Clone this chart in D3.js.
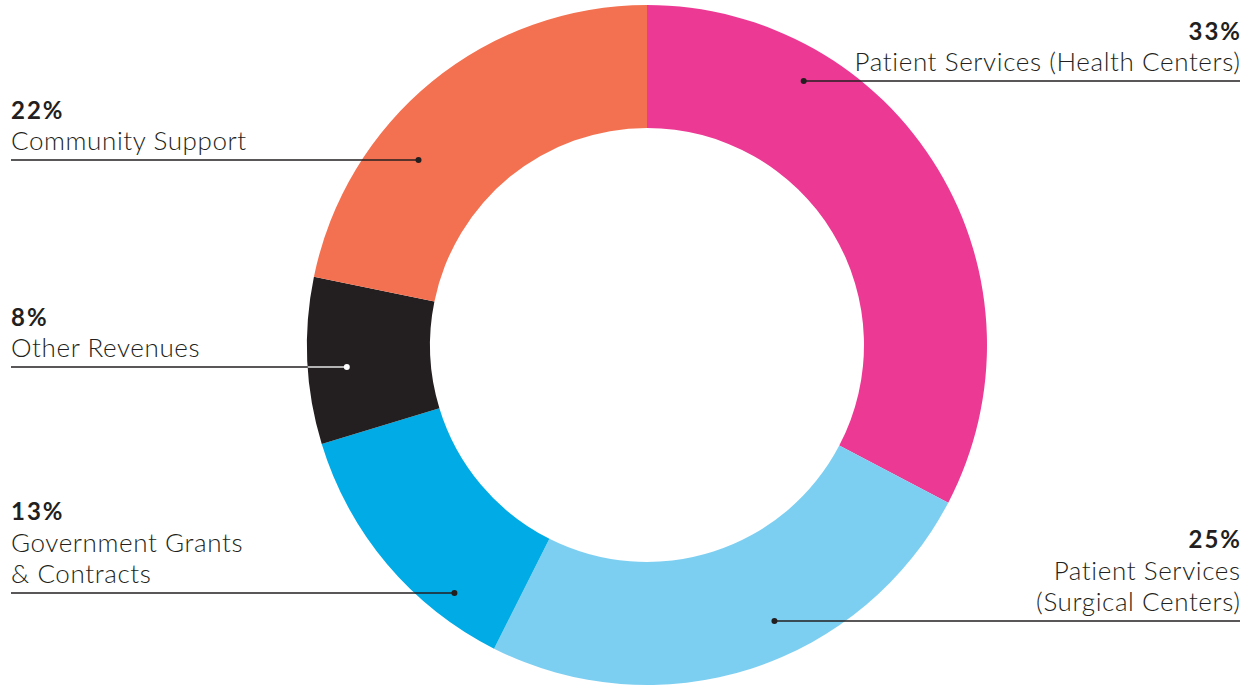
<!DOCTYPE html>
<html>
<head>
<meta charset="utf-8">
<script src="https://cdn.jsdelivr.net/npm/d3@7"></script>
<style>
  body { margin: 0; background: #fff; }
  svg { display: block; font-family: Lato, "Open Sans", sans-serif; }
</style>
</head>
<body>
<svg id="chartArea" width="1252" height="688"></svg>
<script>
// data
const categories = [
    "Patient Services (Health Centers)",
    "Patient Services (Surgical Centers)",
    "Government Grants & Contracts",
    "Other Revenues",
    "Community Support"
];
const shares = [33, 25, 13, 8, 22];
const colorList = ["#ec3994", "#7dcff2", "#00abe6", "#231f20", "#f37150"];

// label text lines for each slice
const labelLines = [
    ["Patient Services (Health Centers)"],
    ["Patient Services", "(Surgical Centers)"],
    ["Government Grants", "& Contracts"],
    ["Other Revenues"],
    ["Community Support"]
];

// layout for labels: side, y of the leader line, radius where the dot sits
const labelLayout = [
    {side: "right", lineY: 81, dotR: 307},
    {side: "right", lineY: 621, dotR: 304},
    {side: "left", lineY: 593, dotR: 314},
    {side: "left", lineY: 367, dotR: 301},
    {side: "left", lineY: 160, dotR: 294}
];

function createDonut() {
    const svg = d3.select("#chartArea");
    const cx = 647, cy = 345;
    const outerR = 340, innerR = 217;
    const leftX = 11, rightX = 1240;
    const lineGap = 31.5;
    const ink = "#231f20";

    const data = categories.map((c, i) => ({
        name: c, value: shares[i], color: colorList[i],
        lines: labelLines[i], layout: labelLayout[i]
    }));

    const pie = d3.pie().sort(null).value(d => d.value);
    const arc = d3.arc().innerRadius(innerR).outerRadius(outerR);

    const g = svg.append("g").attr("transform", `translate(${cx},${cy})`);
    g.selectAll("path")
        .data(pie(data))
        .enter().append("path")
        .attr("d", arc)
        .attr("fill", d => d.data.color);

    const labels = svg.append("g");

    data.forEach(d => {
        const L = d.layout;
        const dy = L.lineY - cy;
        const dx = Math.sqrt(L.dotR * L.dotR - dy * dy);
        const dotX = L.side === "right" ? cx + dx : cx - dx;
        const edgeX = L.side === "right" ? rightX : leftX;
        const anchor = L.side === "right" ? "end" : "start";
        const onDark = d.color === "#231f20";

        // leader line
        labels.append("line")
            .attr("x1", edgeX).attr("x2", dotX)
            .attr("y1", L.lineY).attr("y2", L.lineY)
            .attr("stroke", ink)
            .attr("stroke-width", 1.5);

        if (onDark) {
            // the segment over the black slice is light
            const sliceEdge = cx - Math.sqrt(outerR * outerR - dy * dy);
            labels.append("line")
                .attr("x1", sliceEdge).attr("x2", dotX)
                .attr("y1", L.lineY).attr("y2", L.lineY)
                .attr("stroke", "#e6e6e6")
                .attr("stroke-width", 1.5);
        }

        labels.append("circle")
            .attr("cx", dotX).attr("cy", L.lineY)
            .attr("r", 3)
            .attr("fill", onDark ? "#ffffff" : ink);

        const nLines = d.lines.length;
        const firstBase = L.lineY - 10 - (nLines - 1) * lineGap;
        // trailing letter-spacing pushes right-aligned text left, nudge it back
        const pctX = L.side === "right" ? edgeX + 2 : edgeX;
        const txtX = L.side === "right" ? edgeX + 0.6 : edgeX;

        labels.append("text")
            .attr("x", pctX)
            .attr("y", firstBase - lineGap)
            .attr("text-anchor", anchor)
            .attr("fill", ink)
            .style("font-size", "24px")
            .style("letter-spacing", "2px")
            .style("font-weight", 700)
            .text(d.value + "%");

        d.lines.forEach((t, j) => {
            labels.append("text")
                .attr("x", txtX)
                .attr("y", firstBase + j * lineGap)
                .attr("text-anchor", anchor)
                .attr("fill", ink)
                .style("font-size", "26px")
                .style("letter-spacing", "0.6px")
                .style("font-weight", 300)
                .text(t);
        });
    });
}

createDonut();
</script>
</body>
</html>
